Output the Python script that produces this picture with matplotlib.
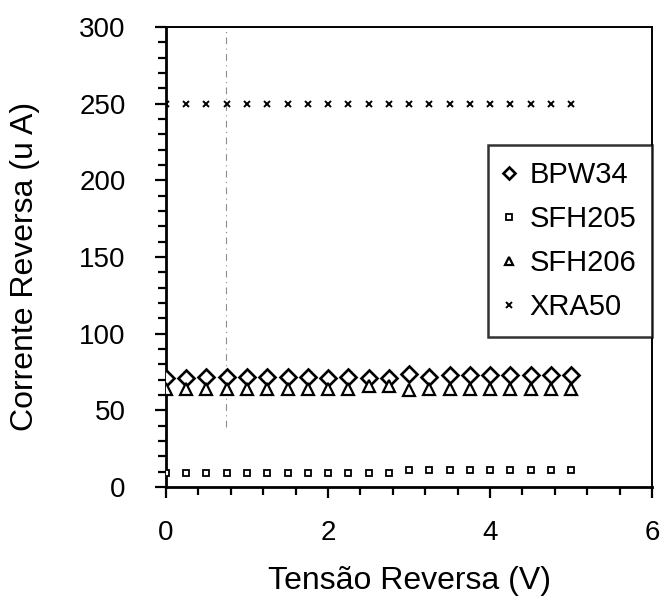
import numpy as np
import matplotlib.pyplot as plt
from matplotlib.ticker import MultipleLocator

plt.rcParams['font.family'] = ['Liberation Sans', 'DejaVu Sans']

# tensao reversa (V)
tensao = [0.0, 0.25, 0.5, 0.75, 1.0, 1.25, 1.5, 1.75, 2.0, 2.25, 2.5,
          2.75, 3.0, 3.25, 3.5, 3.75, 4.0, 4.25, 4.5, 4.75, 5.0]

# corrente reversa (uA) de cada fotodiodo
bpw34 = [71, 71, 72, 71.5, 72, 72, 71.5, 71.5, 71, 72, 71,
         71, 73.5, 71.5, 73, 73, 73, 73, 73, 73, 73]
sfh205 = [9.3, 9.3, 9.3, 9.3, 9.3, 9.3, 9.3, 9.3, 9.3, 9.3, 9.3,
          9.3, 11.4, 11.4, 11.4, 11.4, 11.4, 11.4, 11.4, 11.4, 11.4]
sfh206 = [64, 64, 64, 64, 64, 64, 64, 64, 64, 64, 66,
          66, 63, 64, 64, 64, 64, 64, 64, 64, 64]
xra50 = [250] * 21

fig = plt.figure(figsize=(6.6, 6.01), dpi=100)
ax = fig.add_axes([0.2515, 0.1897, 0.7365, 0.7653])

# linha auxiliar tracejada
ax.axvline(0.74, ymin=39 / 300, ymax=1, color='0.55', lw=0.8,
           ls=(0, (6, 4, 1, 4)), zorder=1)

ax.plot(tensao, bpw34, ls='none', marker='D', ms=8, mfc='white',
        mec='black', mew=1.9, label='BPW34', zorder=3)
ax.plot(tensao, sfh205, ls='none', marker='s', ms=5, mfc='white',
        mec='black', mew=1.3, label='SFH205', zorder=3)
ax.plot(tensao, sfh206, ls='none', marker='^', ms=8, mfc='white',
        mec='black', mew=1.6, label='SFH206', zorder=3)
ax.plot(tensao, xra50, ls='none', marker='x', ms=5, mec='black',
        mew=1.4, label='XRA50', zorder=3)

ax.set_xlim(0, 6)
ax.set_ylim(0, 300)
ax.xaxis.set_major_locator(MultipleLocator(2))
ax.xaxis.set_minor_locator(MultipleLocator(0.4))
ax.yaxis.set_major_locator(MultipleLocator(50))
ax.yaxis.set_minor_locator(MultipleLocator(10))

ax.tick_params(which='both', direction='out', width=1.6, colors='black',
               labelsize=20)
ax.tick_params(which='major', length=8)
ax.tick_params(which='minor', length=6)
ax.tick_params(axis='y', which='major', pad=21)
ax.tick_params(axis='x', which='major', pad=16)
for side in ['left', 'bottom']:
    ax.spines[side].set_linewidth(2)
for side in ['top', 'right']:
    ax.spines[side].set_linewidth(1.4)

ax.set_xlabel('Tensão Reversa (V)', fontsize=23, labelpad=14)
ax.set_ylabel('Corrente Reversa (u A)', fontsize=23)
ax.yaxis.set_label_coords(-0.26, 0.48)

leg = ax.legend(loc='upper right', bbox_to_anchor=(1.0, 0.743),
                fontsize=21, frameon=True, fancybox=False,
                handlelength=0.3, handletextpad=0.55, labelspacing=0.55,
                borderpad=0.55, borderaxespad=0, markerscale=0.75)
leg.get_frame().set_edgecolor('black')
leg.get_frame().set_linewidth(1.8)

fig.savefig('out.png', dpi=100)
